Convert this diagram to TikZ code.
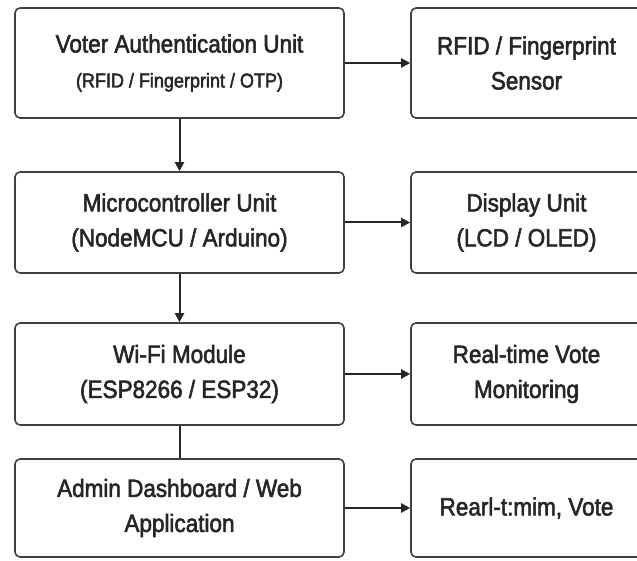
\documentclass[tikz,border=0pt]{standalone}
\usepackage{fontspec}
\setmainfont{Liberation Sans}[FakeStretch=0.9,FakeBold=2.2]
\usepackage{xcolor}
\usetikzlibrary{arrows.meta}
\tikzstyle{unit}=[draw=black!75,line width=1.6pt,rounded corners=5pt,align=center,text=black!85,font=\fontsize{25}{35}\selectfont,inner sep=0pt]
\tikzstyle{leftunit}=[unit,minimum width=329pt]
\tikzstyle{rightunit}=[unit,minimum width=231pt]
\tikzstyle{link}=[draw=black!85,line width=2pt,-{Triangle[length=9pt,width=9pt]}]
\newcommand{\subline}[1]{{\fontsize{20}{35}\selectfont #1}}

\begin{document}
\begin{tikzpicture}[x=1pt,y=1pt]
	\useasboundingbox (0,0) rectangle (637,560);
	\clip (0,0) rectangle (637,560);
	% left column
	\node[leftunit,minimum height=110pt] (auth) at (179.5,497) {Voter Authentication Unit\\\subline{(RFID / Fingerprint / OTP)}};
	\node[leftunit,minimum height=101pt] (mcu) at (179.5,337.5) {Microcontroller Unit\\(NodeMCU / Arduino)};
	\node[leftunit,minimum height=102pt] (wifi) at (179.5,186) {Wi-Fi Module\\(ESP8266 / ESP32)};
	\node[leftunit,minimum height=98pt] (admin) at (179.5,52) {Admin Dashboard / Web\\Application};
	% right column
	\node[rightunit,minimum height=110pt] (sensor) at (526.5,497) {RFID / Fingerprint\\Sensor};
	\node[rightunit,minimum height=101pt] (display) at (526.5,337.5) {Display Unit\\(LCD / OLED)};
	\node[rightunit,minimum height=102pt] (monitor) at (526.5,186) {Real-time Vote\\Monitoring};
	\node[rightunit,minimum height=98pt] (result) at (526.5,52) {Rearl-t:mim, Vote};
	% connectors
	\draw[link] (auth) -- (sensor);
	\draw[link] (mcu) -- (display);
	\draw[link] (wifi) -- (monitor);
	\draw[link] (admin) -- (result);
	\draw[link] (auth) -- (mcu);
	\draw[link] (mcu) -- (wifi);
	\draw[link,-] (wifi) -- (admin);
\end{tikzpicture}
\end{document}
